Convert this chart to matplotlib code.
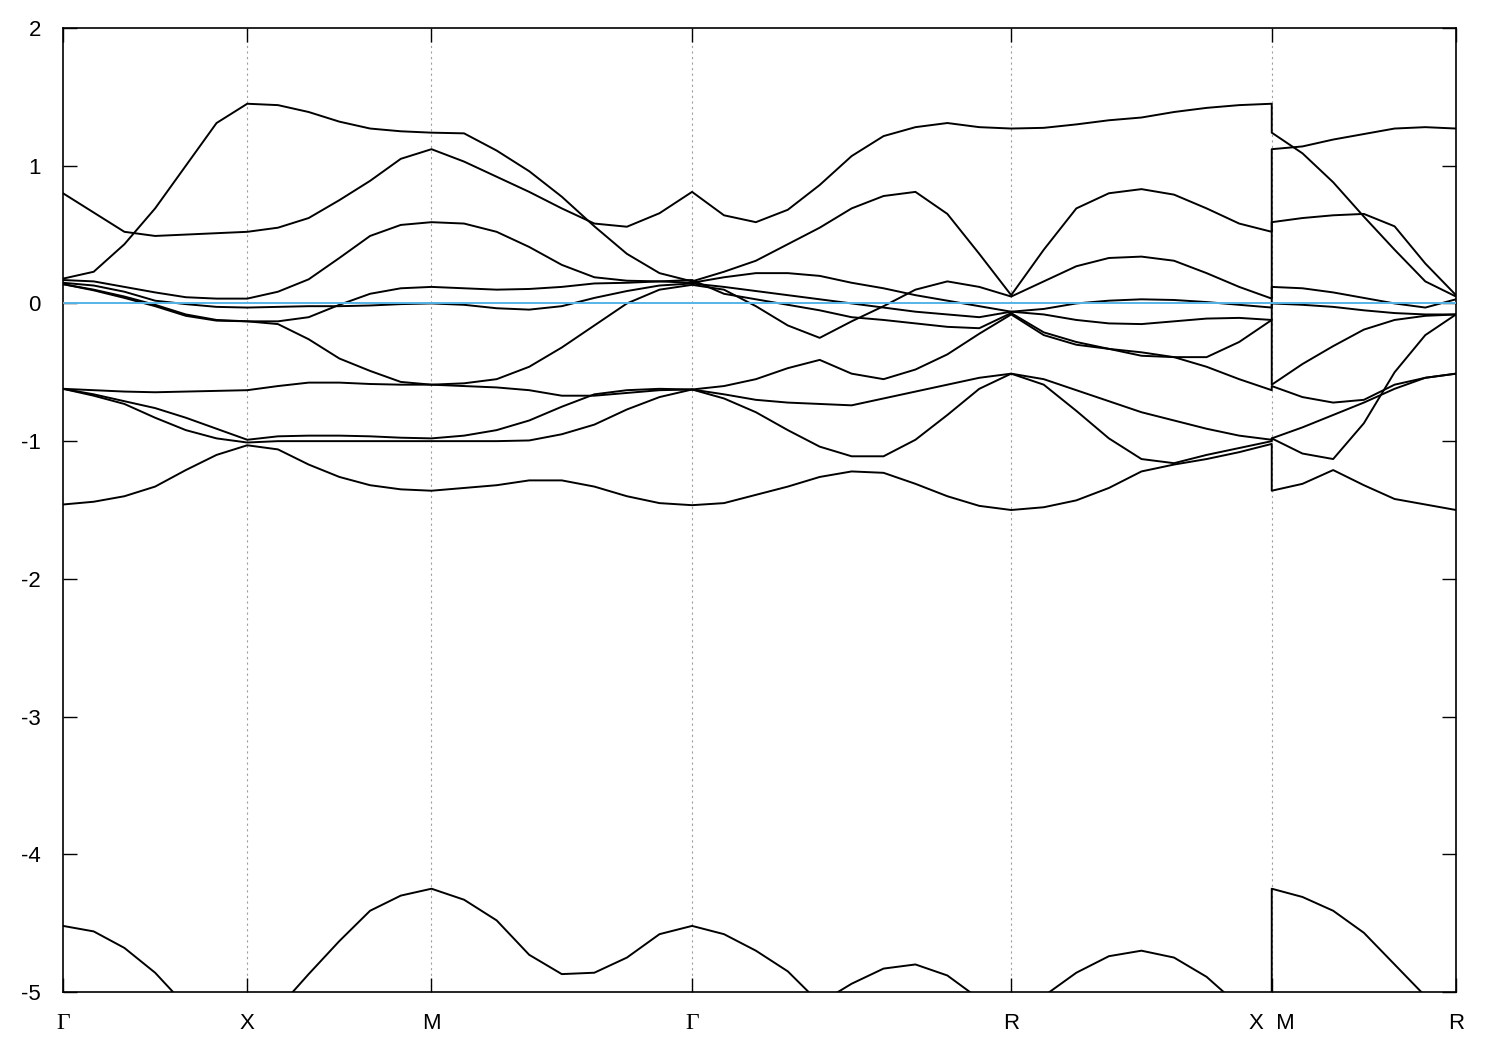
import numpy as np
import matplotlib
matplotlib.use("Agg")
import matplotlib.pyplot as plt

# %% path: high-symmetry points (cumulative |k|, cubic cell a=1)
node_k = [0.0, 0.5, 1.0, 1.7071, 2.5731, 3.2802, 3.7802]
node_labels = ["Γ", "X", "M", "Γ", "R", "X  M", "R"]
# samples per segment: Γ-X, X-M, M-Γ, Γ-R, R-X, M-R
seg_steps = [6, 6, 8, 10, 8, 6]
e_fermi = 0.0

# %% bands (eV); segments Γ-X | X-M | M-Γ | Γ-R | R-X | M-R
band1 = [0.80, 0.66, 0.52, 0.49, 0.50, 0.51, 0.52,
         0.55, 0.62, 0.75, 0.89, 1.05, 1.12,
         1.03, 0.92, 0.81, 0.69, 0.58, 0.557, 0.655, 0.81,
         0.64, 0.59, 0.68, 0.86, 1.07, 1.215, 1.28, 1.31, 1.28, 1.27,
         1.275, 1.30, 1.33, 1.35, 1.39, 1.42, 1.44, 1.45,
         1.24, 1.09, 0.88, 0.63, 0.39, 0.16, 0.05]
band2 = [0.18, 0.23, 0.43, 0.69, 1.00, 1.31, 1.45,
         1.44, 1.39, 1.32, 1.27, 1.25, 1.24,
         1.235, 1.11, 0.96, 0.775, 0.56, 0.36, 0.22, 0.16,
         0.23, 0.31, 0.43, 0.55, 0.69, 0.78, 0.81, 0.65, 0.36, 0.06,
         0.39, 0.69, 0.80, 0.83, 0.79, 0.69, 0.58, 0.52,
         1.12, 1.14, 1.19, 1.23, 1.27, 1.28, 1.27]
band3 = [0.17, 0.16, 0.12, 0.08, 0.045, 0.035, 0.035,
         0.085, 0.175, 0.33, 0.49, 0.57, 0.59,
         0.58, 0.52, 0.41, 0.28, 0.19, 0.165, 0.16, 0.15,
         0.19, 0.22, 0.22, 0.20, 0.15, 0.11, 0.06, 0.02, -0.02, -0.06,
         -0.08, -0.12, -0.145, -0.15, -0.13, -0.11, -0.105, -0.12,
         0.0, -0.01, -0.025, -0.05, -0.07, -0.08, -0.08]
band4 = [0.15, 0.13, 0.085, 0.02, -0.005, -0.025, -0.03,
         -0.025, -0.02, -0.02, -0.015, -0.005, 0.0,
         -0.01, -0.035, -0.045, -0.02, 0.04, 0.09, 0.13, 0.145,
         0.12, 0.09, 0.06, 0.03, 0.0, -0.03, -0.06, -0.08, -0.10, -0.06,
         -0.04, 0.0, 0.02, 0.03, 0.025, 0.01, -0.01, -0.03,
         0.12, 0.11, 0.08, 0.04, 0.0, -0.03, 0.03]
band5 = [0.14, 0.10, 0.05, -0.01, -0.08, -0.12, -0.13,
         -0.13, -0.10, -0.01, 0.07, 0.11, 0.12,
         0.11, 0.10, 0.105, 0.12, 0.145, 0.15, 0.16, 0.17,
         0.07, 0.03, -0.01, -0.05, -0.10, -0.12, -0.145, -0.17, -0.18, -0.07,
         -0.21, -0.28, -0.33, -0.355, -0.39, -0.39, -0.28, -0.12,
         -0.59, -0.44, -0.31, -0.19, -0.12, -0.09, -0.08]
band6 = [0.14, 0.095, 0.04, -0.02, -0.09, -0.125, -0.13,
         -0.15, -0.26, -0.40, -0.49, -0.57, -0.59,
         -0.58, -0.55, -0.46, -0.32, -0.16, 0.0, 0.10, 0.135,
         0.10, -0.02, -0.16, -0.25, -0.13, -0.02, 0.10, 0.16, 0.12, 0.05,
         0.16, 0.27, 0.33, 0.34, 0.31, 0.22, 0.12, 0.035,
         0.59, 0.62, 0.64, 0.65, 0.56, 0.29, 0.06]
band7 = [-0.62, -0.63, -0.64, -0.645, -0.64, -0.635, -0.63,
         -0.60, -0.575, -0.575, -0.585, -0.59, -0.59,
         -0.60, -0.61, -0.63, -0.67, -0.67, -0.65, -0.63, -0.625,
         -0.60, -0.55, -0.47, -0.41, -0.51, -0.55, -0.48, -0.37, -0.22, -0.08,
         -0.23, -0.30, -0.33, -0.38, -0.39, -0.46, -0.55, -0.63,
         -0.60, -0.68, -0.72, -0.70, -0.59, -0.54, -0.51]
band8 = [-0.62, -0.66, -0.71, -0.76, -0.83, -0.91, -0.99,
         -0.965, -0.96, -0.96, -0.965, -0.975, -0.98,
         -0.96, -0.92, -0.85, -0.75, -0.66, -0.63, -0.62, -0.625,
         -0.66, -0.70, -0.72, -0.73, -0.74, -0.69, -0.64, -0.59, -0.54, -0.51,
         -0.55, -0.63, -0.71, -0.79, -0.85, -0.91, -0.96, -0.99,
         -0.98, -0.90, -0.81, -0.72, -0.62, -0.54, -0.51]
band9 = [-0.62, -0.67, -0.73, -0.83, -0.92, -0.98, -1.01,
         -1.0, -1.0, -1.0, -1.0, -1.0, -1.0,
         -1.0, -1.0, -0.995, -0.95, -0.88, -0.77, -0.68, -0.625,
         -0.69, -0.79, -0.92, -1.04, -1.11, -1.11, -0.99, -0.81, -0.62, -0.51,
         -0.59, -0.78, -0.98, -1.13, -1.16, -1.10, -1.05, -1.0,
         -0.98, -1.09, -1.13, -0.87, -0.50, -0.23, -0.08]
band10 = [-1.46, -1.44, -1.40, -1.33, -1.21, -1.10, -1.03,
          -1.06, -1.17, -1.26, -1.32, -1.35, -1.36,
          -1.34, -1.32, -1.285, -1.285, -1.33, -1.40, -1.45, -1.465,
          -1.45, -1.39, -1.33, -1.26, -1.22, -1.23, -1.31, -1.40, -1.47, -1.50,
          -1.48, -1.43, -1.34, -1.22, -1.17, -1.13, -1.08, -1.02,
          -1.36, -1.31, -1.21, -1.32, -1.42, -1.46, -1.50]
band_low = [-4.52, -4.56, -4.68, -4.86, -5.10, -5.30, -5.45,
            -5.12, -4.87, -4.63, -4.41, -4.30, -4.25,
            -4.33, -4.48, -4.73, -4.87, -4.86, -4.75, -4.58, -4.52,
            -4.58, -4.70, -4.85, -5.08, -4.94, -4.83, -4.80, -4.88, -5.05, -5.25,
            -5.03, -4.86, -4.74, -4.70, -4.75, -4.89, -5.10, -5.25,
            -4.25, -4.31, -4.41, -4.57, -4.80, -5.03, -5.25]
bands = [band1, band2, band3, band4, band5, band6, band7, band8, band9, band10, band_low]

# %% k grid along the path (X|M break repeats the same k)
segs = [(0, 1), (1, 2), (2, 3), (3, 4), (4, 5), (5, 6)]
kpts = []
for i, ((a, b), n) in enumerate(zip(segs, seg_steps)):
    ks = np.linspace(node_k[a], node_k[b], n + 1)
    if i in (0, 5):
        kpts.extend(ks)
    else:
        kpts.extend(ks[1:])
kpts = np.array(kpts)

# %% plot
fig = plt.figure(figsize=(15, 10.5), dpi=100)
ax = fig.add_axes([63 / 1500, 1 - 992 / 1050, (1456 - 63) / 1500, (992 - 28) / 1050])

for x in node_k[1:-1]:
    ax.axvline(x, color="#a0a0a0", lw=0.8, ls=(0, (2, 3)), zorder=1)
ax.axhline(e_fermi, color="#56b4e9", lw=1.4, zorder=3)
for b in bands:
    ax.plot(kpts, b, color="black", lw=1.4, zorder=2, solid_joinstyle="round")

ax.set_xlim(node_k[0], node_k[-1])
ax.set_ylim(-5, 2)
ax.set_xticks(node_k)
ax.set_xticklabels(node_labels)
ax.set_yticks(range(-5, 3))
ax.set_yticklabels([str(v) for v in range(-5, 3)])
ax.tick_params(direction="in", length=10, width=1, labelsize=16, top=True, right=True)
ax.tick_params(axis="x", pad=15)
ax.tick_params(axis="y", pad=16)
for lab in ax.get_xticklabels():
    if lab.get_text() == "Γ":
        lab.set_fontfamily("Liberation Serif")
        lab.set_fontsize(17)
    else:
        lab.set_fontfamily("Liberation Sans")
for lab in ax.get_yticklabels():
    lab.set_fontfamily("Liberation Sans")
for s in ax.spines.values():
    s.set_linewidth(1.2)

fig.savefig("out.png", dpi=100)
